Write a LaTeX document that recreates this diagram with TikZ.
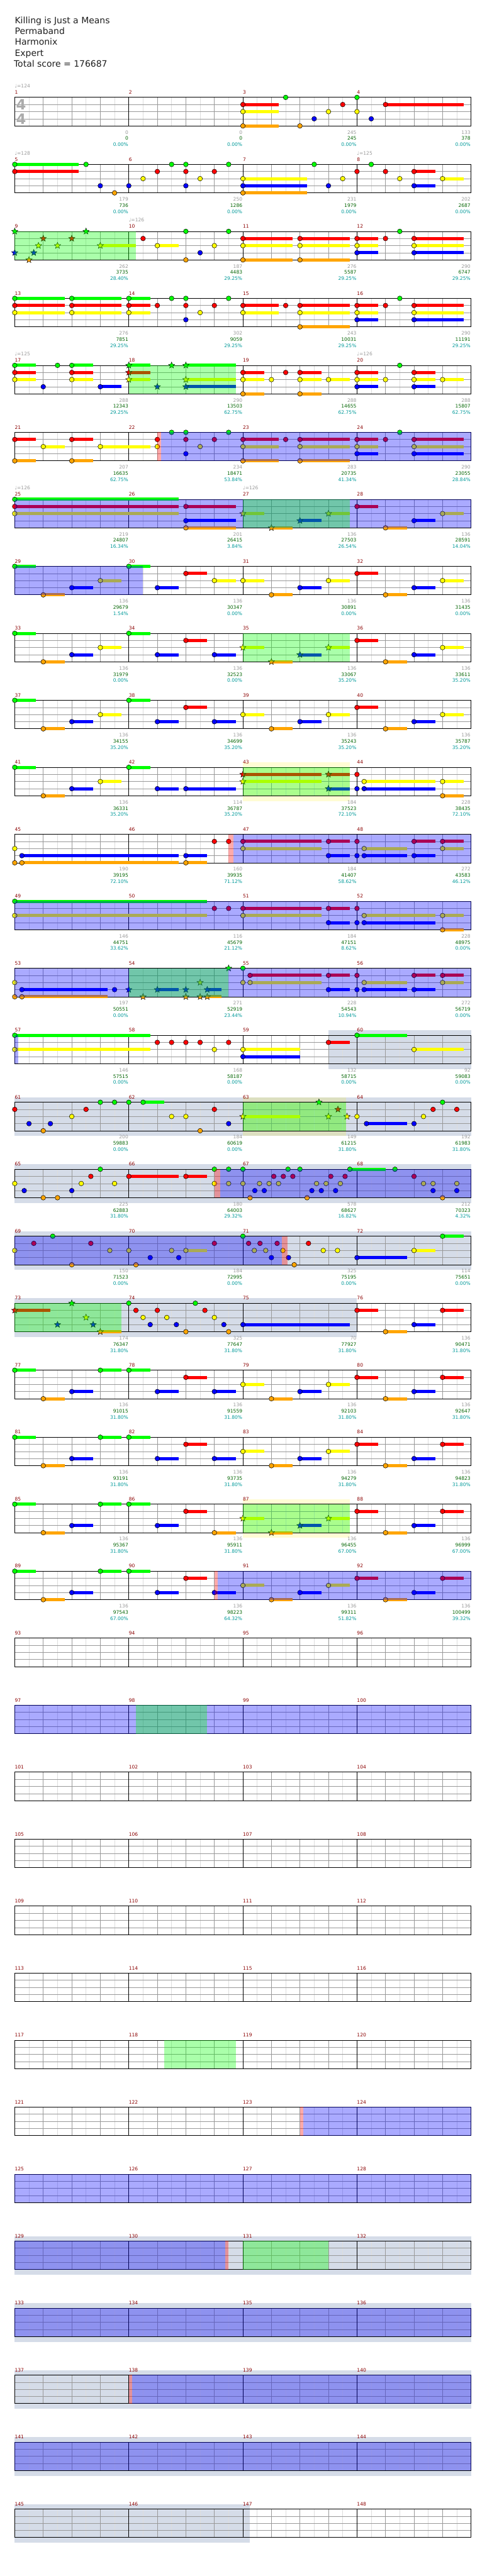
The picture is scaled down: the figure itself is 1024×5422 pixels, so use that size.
\documentclass[tikz,border=0pt]{standalone}
\usepackage{fontspec}
\setmainfont{DejaVu Sans}
\usetikzlibrary{shapes.geometric}
\definecolor{lane0}{HTML}{00FF00}
\definecolor{lane1}{HTML}{FF0000}
\definecolor{lane2}{HTML}{FFFF00}
\definecolor{lane3}{HTML}{0000FF}
\definecolor{lane4}{HTML}{FFA500}
\definecolor{mnum}{HTML}{8B0000}
\definecolor{sgray}{HTML}{9A9A9A}
\definecolor{sgreen}{HTML}{006400}
\definecolor{scyan}{HTML}{009A9A}
\definecolor{gridlight}{HTML}{DDDDDD}
\definecolor{gridmid}{HTML}{999999}
\definecolor{bandcol}{HTML}{D5DCE8}
\tikzset{
  notec/.style={draw=black, line width=0.7pt},
  starn/.style={star, star points=5, star point ratio=2.3, minimum size=14pt, inner sep=0pt, draw=black, line width=0.6pt},
  mnumtxt/.style={anchor=base west, text=mnum, font=\fontsize{10}{10}\selectfont, inner sep=0pt},
  sctxt/.style={anchor=base east, font=\fontsize{10}{10}\selectfont, inner sep=0pt},
  tempotxt/.style={anchor=base west, text=sgray, font=\fontsize{10}{10}\selectfont, inner sep=0pt},
  titletxt/.style={anchor=base west, text=black!88, font=\fontsize{18.5}{18.5}\selectfont, inner sep=0pt}
}
\newcommand\rowT[1]{\pgfmathsetmacro\T{205+141*#1}}
\newcommand\nts[2]{\rowT{#1}\foreach \s/\l/\e in {#2}{\ifdim\e pt>\s pt\fill[lane\l] ({31+15*\s},{\T+15*\l-3.3}) rectangle ({31+15*\e},{\T+15*\l+3.3});\fi\filldraw[notec, fill=lane\l] ({31+15*\s},{\T+15*\l}) circle (5pt);}}
\newcommand\strs[2]{\rowT{#1}\foreach \s/\l/\e in {#2}{\ifdim\e pt>\s pt\fill[lane\l] ({31+15*\s},{\T+15*\l-3.3}) rectangle ({31+15*\e},{\T+15*\l+3.3});\fi\node[starn, fill=lane\l] at ({31+15*\s},{\T+15*\l}) {};}}
\newcommand\ovB[3]{\rowT{#1}\fill[blue, fill opacity=0.333] ({31+15*#2},{\T}) rectangle ({31+15*#3},{\T+60});}
\newcommand\ovG[3]{\rowT{#1}\fill[green, fill opacity=0.333] ({31+15*#2},{\T}) rectangle ({31+15*#3},{\T+60});}
\newcommand\ovP[3]{\rowT{#1}\fill[red, fill opacity=0.333] ({31+15*#2},{\T}) rectangle ({31+15*#3},{\T+60});}
\newcommand\bgB[3]{\rowT{#1}\fill[bandcol] ({31+15*#2},{\T-10.5}) rectangle ({31+15*#3},{\T+71});}
\newcommand\bgY[3]{\rowT{#1}\fill[yellow, fill opacity=0.17] ({31+15*#2},{\T-10.5}) rectangle ({31+15*#3},{\T+71});}
\newcommand\scr[2]{\rowT{#1}\foreach \k/\a/\b/\c in {#2}{%
  \node[sctxt, text=sgray] at ({30+240*(\k+1)},{\T+77}) {\a};
  \node[sctxt, text=sgreen] at ({30+240*(\k+1)},{\T+90}) {\b};
  \node[sctxt, text=scyan] at ({30+240*(\k+1)},{\T+103}) {\c\%};}}
\newcommand\tmark[3]{\rowT{#1}\node[tempotxt] at ({31+240*#2},{\T-20}) {♩=#3};}
\begin{document}
\begin{tikzpicture}[x=1pt,y=-1pt]
\useasboundingbox (0,0) rectangle (1024,5422);
\fill[white] (0,0) rectangle (1024,5422);
% title
\node[titletxt] (t1) at (31,49) {Killing is Just a Means};
\node[titletxt] (t2) at (31,72) {Permaband};
\node[titletxt] (t3) at (31,95) {Harmonix};
\node[titletxt] (t4) at (31,118) {Expert};
\node[titletxt] (t5) at (29,141) {Total score = 176687};
% background bands
\bgB{14}{44}{64}
\bgB{15}{0}{64}\bgY{15}{32}{46.5}
\bgB{16}{0}{64}
\bgB{17}{0}{64}
\bgB{18}{0}{48}
\bgY{10}{32}{47}
\bgY{21}{32}{47}
\bgB{32}{0}{64}
\bgB{33}{0}{64}
\bgB{34}{0}{64}
\bgB{35}{0}{64}
\bgB{36}{0}{33}
% grid
\foreach \r in {0,...,36}{
  \pgfmathsetmacro\T{205+141*\r}
  \foreach \i in {1,3,...,31}{\draw[gridlight, line width=0.8pt] ({31+30*\i},{\T}) -- ({31+30*\i},{\T+60});}
  \foreach \j in {1,2,3,5,6,7,9,10,11,13,14,15}{\draw[gridmid, line width=0.8pt] ({31+60*\j},{\T}) -- ({31+60*\j},{\T+60});}
  \foreach \h in {15,30,45}{\draw[gridmid, line width=0.8pt] (31,{\T+\h}) -- (991,{\T+\h});}
  \foreach \k in {1,2,3}{\draw[black, line width=0.9pt] ({31+240*\k},{\T}) -- ({31+240*\k},{\T+60});}
  \draw[black, line width=1pt] (31,{\T}) rectangle (991,{\T+60});
  \foreach \k in {0,...,3}{\pgfmathtruncatemacro\m{4*\r+\k+1}\node[mnumtxt] (m\m) at ({31+240*\k},{\T-7}) {\m};}
}
\node[font=\fontsize{30}{30}\bfseries\selectfont, text=black!33, inner sep=0pt] (ts1) at (44.5,220.5) {4};
\node[font=\fontsize{30}{30}\bfseries\selectfont, text=black!33, inner sep=0pt] (ts2) at (44.5,250) {4};
% tempo marks
\tmark{0}{0}{124}
\tmark{1}{0}{128}\tmark{1}{3}{125}
\tmark{2}{1}{126}
\tmark{4}{0}{125}\tmark{4}{3}{126}
\tmark{6}{0}{126}\tmark{6}{2}{126}
% row 0
\nts{0}{32/1/37, 32/2/37, 32/4/37, 38/0/0, 40/4/0, 42/3/0, 44/2/0, 46/1/0, 48/0/0, 48/2/0, 50/3/0, 52/1/63}
\scr{0}{0/0/0/0.00, 1/0/0/0.00, 2/245/245/0.00, 3/133/378/0.00}
% row 1
\nts{1}{0/0/9, 0/1/9, 10/0/0, 12/3/0, 14/4/0, 16/3/0, 18/2/0, 20/1/0, 22/0/0, 24/0/0, 24/1/0, 24/3/0, 26/2/0, 28/1/0, 30/0/0, 32/2/41, 32/3/41, 32/4/41, 42/0/0, 44/3/0, 46/2/0, 48/1/0, 50/0/0, 52/1/0, 54/2/0, 56/1/59, 56/3/59, 60/2/63}
\scr{1}{0/179/736/0.00, 1/250/1286/0.00, 2/231/1979/0.00, 3/202/2687/0.00}
% row 2
\strs{2}{0/0/0, 0/3/0, 2/4/0, 2.67/3/0, 3.33/2/0, 4/1/0, 6/2/0, 8/1/0, 10/0/0, 12/2/17}
\nts{2}{18/1/0, 20/2/23, 24/0/0, 24/4/0, 26/3/0, 28/2/0, 30/0/0, 32/1/39, 32/2/39, 32/4/39, 40/1/47, 40/2/47, 40/4/47, 48/1/51, 48/2/51, 48/3/51, 52/1/0, 54/0/0, 56/1/63, 56/2/63, 56/3/63}
\ovG{2}{0}{17}
\scr{2}{0/262/3735/28.40, 1/187/4483/29.25, 2/276/5587/29.25, 3/290/6747/29.25}
% row 3
\nts{3}{0/0/7, 0/1/7, 0/2/7, 8/0/15, 8/1/15, 8/2/15, 16/0/19, 16/1/19, 16/2/19, 20/1/0, 22/0/0, 24/0/0, 24/1/0, 24/3/0, 26/2/0, 28/1/0, 30/0/0, 32/1/37, 32/2/37, 38/1/0, 40/1/47, 40/2/47, 40/4/47, 48/1/51, 48/2/51, 48/3/51, 52/1/0, 54/0/0, 56/1/63, 56/2/63, 56/3/63}
\scr{3}{0/276/7851/29.25, 1/302/9059/29.25, 2/243/10031/29.25, 3/290/11191/29.25}
% row 4
\nts{4}{0/0/3, 0/1/3, 0/2/3, 4/3/0, 6/0/0, 8/0/11, 8/1/11, 8/2/11, 12/3/15, 32/1/35, 32/2/35, 32/4/35, 36/2/0, 38/1/0, 40/1/43, 40/2/43, 40/4/43, 44/2/47, 48/1/51, 48/2/51, 48/3/51, 52/2/0, 54/0/0, 56/1/59, 56/2/59, 56/3/59, 60/2/63}
\strs{4}{16/0/19, 16/1/19, 16/2/19, 20/3/0, 22/0/0, 24/0/31, 24/2/31, 24/3/31}
\ovG{4}{16}{31}
\scr{4}{0/288/12343/29.25, 1/290/13503/62.75, 2/288/14655/62.75, 3/288/15807/62.75}
% row 5
\nts{5}{0/1/3, 0/4/3, 4/2/7, 8/1/11, 8/4/11, 12/2/19, 20/1/0, 20/2/0, 22/0/0, 24/0/0, 24/1/0, 24/3/0, 26/2/0, 28/1/0, 30/0/0, 32/1/37, 32/2/37, 32/4/37, 38/1/0, 40/1/47, 40/2/47, 40/4/47, 48/1/51, 48/2/51, 48/3/51, 52/1/0, 54/0/0, 56/1/63, 56/2/63, 56/3/63}
\ovP{5}{20}{20.53}\ovB{5}{20.53}{64}
\scr{5}{0/207/16635/62.75, 1/234/18471/53.84, 2/283/20735/41.34, 3/290/23055/28.84}
% row 6
\nts{6}{0/0/23, 0/1/23, 0/2/23, 24/1/31, 24/3/31, 24/4/31, 48/1/51, 52/4/55, 56/3/59, 60/2/63}
\strs{6}{32/2/35, 36/4/39, 40/3/43, 44/2/47}
\ovB{6}{0}{64}\ovG{6}{32}{47}
\scr{6}{0/219/24807/16.34, 1/201/26415/3.84, 2/136/27503/26.54, 3/136/28591/14.04}
% row 7
\nts{7}{0/0/3, 4/4/7, 8/3/11, 12/2/15, 16/0/19, 20/3/23, 24/1/27, 28/2/31, 32/2/35, 36/4/39, 40/3/43, 44/2/47, 48/1/51, 52/4/55, 56/3/59, 60/2/63}
\ovB{7}{0}{18}
\scr{7}{0/136/29679/1.54, 1/136/30347/0.00, 2/136/30891/0.00, 3/136/31435/0.00}
% row 8
\nts{8}{0/0/3, 4/4/7, 8/3/11, 12/2/15, 16/0/19, 20/3/23, 24/1/27, 28/3/31, 48/1/51, 52/4/55, 56/3/59, 60/2/63}
\strs{8}{32/2/35, 36/4/39, 40/3/43, 44/2/47}
\ovG{8}{32}{47}
\scr{8}{0/136/31979/0.00, 1/136/32523/0.00, 2/136/33067/35.20, 3/136/33611/35.20}
% row 9
\nts{9}{0/0/3, 4/4/7, 8/3/11, 12/2/15, 16/0/19, 20/3/23, 24/1/27, 28/3/31, 32/2/35, 36/4/39, 40/3/43, 44/2/47, 48/1/51, 52/4/55, 56/3/59, 60/2/63}
\scr{9}{0/136/34155/35.20, 1/136/34699/35.20, 2/136/35243/35.20, 3/136/35787/35.20}
% row 10
\nts{10}{0/0/3, 4/4/7, 8/3/11, 12/2/15, 16/0/19, 20/3/23, 24/3/31, 48/1/0, 48/3/0, 49/2/59, 49/3/59, 60/2/63, 60/4/63}
\strs{10}{32/1/43, 32/2/43, 44/1/47, 44/3/47}
\ovG{10}{32}{47}
\scr{10}{0/136/36331/35.20, 1/114/36787/35.20, 2/184/37523/72.10, 3/228/38435/72.10}
% row 11
\nts{11}{0/2/0, 0/4/0, 1/3/23, 1/4/23, 24/3/27, 24/4/27, 28/1/0, 30/1/0, 32/1/43, 32/2/43, 44/1/47, 44/3/47, 48/1/0, 48/3/0, 49/2/55, 49/3/55, 56/1/59, 56/3/59, 60/1/63, 60/2/63}
\ovP{11}{30}{30.65}\ovB{11}{30.65}{64}
\scr{11}{0/190/39195/72.10, 1/160/39935/71.12, 2/184/41407/58.62, 3/272/43583/46.12}
% row 12
\nts{12}{0/0/27, 0/2/27, 28/1/0, 30/1/0, 32/1/43, 32/2/43, 44/1/47, 44/3/47, 48/1/0, 48/3/0, 49/2/59, 49/3/59, 60/2/63, 60/4/63}
\ovB{12}{0}{64}
\scr{12}{0/146/44751/33.62, 1/116/45679/21.12, 2/184/47151/8.62, 3/228/48975/0.00}
% row 13
\nts{13}{0/2/0, 0/4/0, 1/3/13, 1/4/13, 14/3/0, 32/0/0, 32/2/0, 33/1/43, 33/2/43, 44/1/47, 44/3/47, 48/1/0, 48/3/0, 49/2/55, 49/3/55, 56/1/59, 56/3/59, 60/1/63, 60/2/63}
\strs{13}{16/3/0, 18/4/0, 20/3/23, 24/3/0, 24/4/0, 26/2/0, 26/4/0, 27/3/29, 27/4/29, 30/0/0}
\ovB{13}{0}{64}\ovG{13}{16}{30}
\scr{13}{0/197/50551/0.00, 1/271/52919/23.44, 2/228/54543/10.94, 3/272/56719/0.00}
% row 14
\nts{14}{0/0/19, 0/2/19, 20/1/0, 22/1/0, 24/1/0, 26/1/0, 28/2/0, 30/1/0, 32/2/40, 32/3/40, 44/1/47, 48/0/55, 56/2/63}
\ovB{14}{0}{0.5}
\scr{14}{0/146/57515/0.00, 1/168/58187/0.00, 2/132/58715/0.00, 3/92/59083/0.00}
% row 15
\nts{15}{0/1/0, 2/3/0, 4/4/0, 5/3/0, 8/2/0, 10/1/0, 12/0/0, 14/0/0, 16/0/0, 18/0/21, 22/2/0, 24/2/0, 26/4/0, 28/1/0, 30/3/0, 48/2/0, 49.33/3/55, 56/3/0, 57.33/2/0, 58.67/1/0, 60/0/0, 62/1/0}
\strs{15}{32/2/40, 42.67/0/0, 44/2/0, 45.33/1/0, 46.6/2/0}
\ovG{15}{32}{46.5}
\scr{15}{0/200/59883/0.00, 1/184/60619/0.00, 2/149/61215/31.80, 3/192/61983/31.80}
% row 16
\nts{16}{0/2/0, 1.33/3/0, 4/4/0, 6/4/0, 8/3/0, 9.33/2/0, 10.67/1/0, 12/0/0, 14/2/0, 16/1/23, 24/1/27, 28/0/0, 28/2/0, 30/0/0, 30/2/0, 32/0/0, 32/2/0, 33/4/0, 33.67/3/0, 34.33/2/0, 35/3/0, 35.67/2/0, 36.33/1/0, 37/2/0, 37.67/1/0, 38.33/0/0, 39/1/0, 40/0/0, 41/4/0, 41.67/3/0, 42.33/2/0, 43/3/0, 43.67/2/0, 44.33/1/0, 45/3/0, 45.67/2/0, 46.33/1/0, 47/0/52, 53.33/0/0, 56/1/0, 57.33/2/0, 58.67/2/0, 58.67/3/0, 60/4/0, 62/2/0, 62/3/0}
\ovP{16}{28}{28.8}\ovB{16}{28.8}{64}
\scr{16}{0/225/62883/31.80, 1/180/64003/29.32, 2/578/68627/16.82, 3/212/70323/4.32}
% row 17
\nts{17}{0/2/0, 2.67/1/0, 5.33/0/0, 8/4/0, 10.67/1/0, 13.33/2/0, 16/2/0, 17/4/0, 19/3/0, 22/2/0, 23/3/0, 24/2/27, 28/1/0, 32/0/0, 32.8/1/0, 33.6/2/0, 34.4/1/0, 35.2/2/0, 36/3/0, 36.8/1/0, 37.6/2/0, 38.4/3/0, 39.2/4/0, 41.2/1/0, 43.27/2/0, 45.27/2/0, 48/3/55, 56/2/59, 60/0/63}
\ovB{17}{0}{37.5}\ovP{17}{37.5}{38.3}
\scr{17}{0/150/71523/0.00, 1/184/72995/0.00, 2/325/75195/0.00, 3/114/75651/0.00}
% row 18
\strs{18}{0/1/5, 6/3/0, 8/0/0, 10/2/0, 11/3/0, 12/4/15}
\nts{18}{16/0/0, 17/1/0, 18/2/0, 19/3/0, 20/1/0, 21.33/2/0, 22.67/3/0, 24/4/0, 25.33/0/0, 26.67/1/0, 28/2/0, 29.33/3/0, 30/4/0, 32/3/47, 48/1/51, 52/4/55, 56/3/59, 60/1/63}
\ovG{18}{0}{15}
\scr{18}{0/174/76347/31.80, 1/325/77647/31.80, 2/70/77927/31.80, 3/136/90471/31.80}
% row 19
\nts{19}{0/0/3, 4/4/7, 8/3/11, 12/0/15, 16/0/19, 20/3/23, 24/1/27, 28/3/31, 32/2/35, 36/4/39, 40/3/43, 44/2/47, 48/1/51, 52/4/55, 56/3/59, 60/1/63}
\scr{19}{0/136/91015/31.80, 1/136/91559/31.80, 2/136/92103/31.80, 3/136/92647/31.80}
% row 20
\nts{20}{0/0/3, 4/4/7, 8/3/11, 12/0/15, 16/0/19, 20/3/23, 24/1/27, 28/3/31, 32/2/35, 36/4/39, 40/3/43, 44/2/47, 48/1/51, 52/4/55, 56/3/59, 60/1/63}
\scr{20}{0/136/93191/31.80, 1/136/93735/31.80, 2/136/94279/31.80, 3/136/94823/31.80}
% row 21
\nts{21}{0/0/3, 4/4/7, 8/3/11, 12/0/15, 16/0/19, 20/3/23, 24/1/27, 28/4/31, 48/1/51, 52/4/55, 56/3/59, 60/1/63}
\strs{21}{32/2/35, 36/4/39, 40/3/43, 44/2/47}
\ovG{21}{32}{47}
\scr{21}{0/136/95367/31.80, 1/136/95911/31.80, 2/136/96455/67.00, 3/136/96999/67.00}
% row 22
\nts{22}{0/0/3, 4/4/7, 8/3/11, 12/0/15, 16/0/19, 20/3/23, 24/1/27, 28/3/31, 32/2/35, 36/4/39, 40/3/43, 44/2/47, 48/1/51, 52/4/55, 56/3/59, 60/1/63}
\ovP{22}{28}{28.5}\ovB{22}{28.5}{64}
\scr{22}{0/136/97543/67.00, 1/136/98223/64.32, 2/136/99311/51.82, 3/136/100499/39.32}
% rows 23-36 (overlays only)
\ovB{24}{0}{64}\ovG{24}{17}{27}
\ovG{29}{21}{31}
\ovP{30}{40}{40.5}\ovB{30}{40.5}{64}
\ovB{31}{0}{64}
\ovB{32}{0}{29.5}\ovP{32}{29.5}{30}\ovG{32}{32}{44}
\ovB{33}{0}{64}
\ovP{34}{16}{16.5}\ovB{34}{16.5}{64}
\ovB{35}{0}{64}
\end{tikzpicture}
\end{document}
